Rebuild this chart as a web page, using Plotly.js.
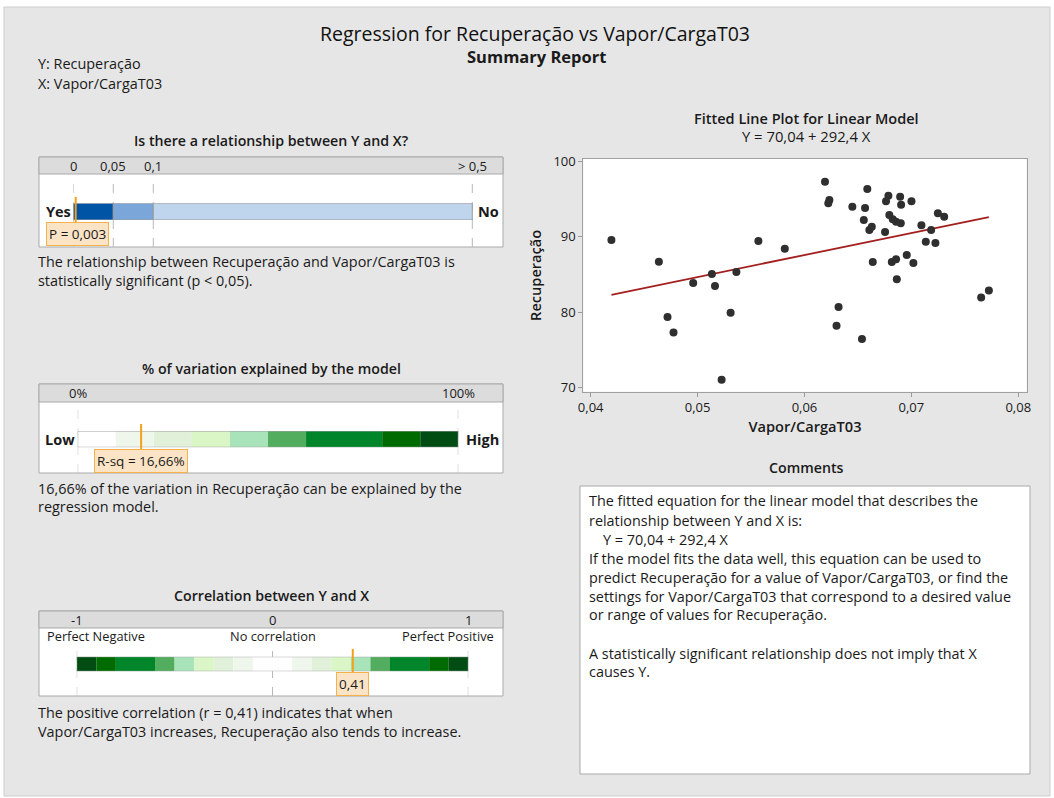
<!DOCTYPE html>
<html>
<head>
<meta charset="utf-8">
<script src="https://cdn.plot.ly/plotly-3.0.1.min.js"></script>
<style>html,body{margin:0;padding:0;background:#fff;}#chart{width:1054px;height:798px;}</style>
</head>
<body>
<div id="chart"></div>
<script>
// ---------------- DATA ----------------
const xVapor = [0.04194,0.04638,0.04719,0.04775,0.04959,0.05134,0.05163,0.05225,0.05309,0.05363,
  0.05569,0.05816,0.06192,0.06233,0.06223,0.06319,0.06300,0.06448,0.06538,0.06567,
  0.06555,0.06588,0.06607,0.06630,0.06639,0.06754,0.06763,0.06785,0.06794,0.06826,
  0.06857,0.06901,0.06817,0.06857,0.06864,0.06895,0.06904,0.06957,0.07001,0.07019,
  0.07094,0.07135,0.07185,0.07225,0.07248,0.07307,0.07653,0.07725];
const yRecup = [89.58,86.70,79.33,77.30,83.86,85.06,83.46,71.00,79.91,85.32,
  89.45,88.43,97.34,94.90,94.47,80.67,78.18,94.02,76.41,93.84,
  92.25,96.37,90.92,91.36,86.66,90.65,94.73,95.48,92.91,92.34,
  92.02,91.81,86.66,87.02,84.36,95.35,94.28,87.59,94.73,86.53,
  91.54,89.36,90.92,89.19,93.14,92.69,81.95,82.88];
const fitCoef = [70.04, 292.4];            // intercept, slope
const pValue = 0.003;
const rSqPct = 16.66;
const corrR = 0.41;

const pBreaks = [0, 0.05, 0.1, 0.5];
const pBreakLabels = ['0', '0,05', '0,1', '> 0,5'];
const pColors = ['#0054a6', '#7aa6d9', '#bfd4ed'];

const rsqBreaks = [0, 10, 20, 30, 40, 50, 60, 80, 90, 100];
const rsqColors = ['#ffffff','#eff7ec','#e1f0d9','#daf5c6','#a8e3ba','#52ae5e','#00852a','#006b00','#004d14'];
const rsqLabels = ['0%', '100%'];

const corrBreaks = [-1,-0.9,-0.8,-0.6,-0.5,-0.4,-0.3,-0.2,-0.1,0.1,0.2,0.3,0.4,0.5,0.6,0.8,0.9,1];
const corrColors = ['#004d14','#006b00','#00852a','#52ae5e','#a8e3ba','#daf5c6','#e1f0d9','#eff7ec','#ffffff',
  '#eff7ec','#e1f0d9','#daf5c6','#a8e3ba','#52ae5e','#00852a','#006b00','#004d14'];
const corrTicks = [-1, 0, 1];
const corrTickLabels = ['-1', '0', '1'];

// ---------------- HELPERS ----------------
const W = 1054, H = 798;
const px = x => x / W;
const py = y => 1 - y / H;
const fmt = (v, d) => v.toFixed(d).replace('.', ',');
const FONT = 'Open Sans, Noto Sans, sans-serif';
const TXT = '#1a1a1a';
const BODY = 14.4;

// nonlinear P scale positions
const pPos = [0, 1, 2, 9.975];
function pmap(p) {
  for (let i = 0; i < pBreaks.length - 1; i++) {
    if (p <= pBreaks[i + 1]) {
      return pPos[i] + (p - pBreaks[i]) / (pBreaks[i + 1] - pBreaks[i]) * (pPos[i + 1] - pPos[i]);
    }
  }
  return pPos[pPos.length - 1];
}

function segTrace(breaks, colors, xa, ya, mapFn, lineW) {
  const f = mapFn || (v => v);
  const base = [], len = [], ys = [];
  for (let i = 0; i < colors.length; i++) {
    base.push(f(breaks[i]));
    len.push(f(breaks[i + 1]) - f(breaks[i]));
    ys.push(0);
  }
  return {type: 'bar', orientation: 'h', y: ys, x: len, base: base, width: 1,
    marker: {color: colors, line: {color: '#9c9c9c', width: lineW}},
    xaxis: xa, yaxis: ya, hoverinfo: 'skip', showlegend: false};
}

// ---------------- TRACES ----------------
const xMin = Math.min(...xVapor), xMax = Math.max(...xVapor);
const traces = [
  {type: 'scatter', mode: 'lines', x: [xMin, xMax], y: [fitCoef[0] + fitCoef[1] * xMin, fitCoef[0] + fitCoef[1] * xMax],
   line: {color: '#a31f1f', width: 1.8}, hoverinfo: 'skip', xaxis: 'x', yaxis: 'y'},
  {type: 'scatter', mode: 'markers', x: xVapor, y: yRecup,
   marker: {color: '#2f2f2f', size: 8}, xaxis: 'x', yaxis: 'y'},
  segTrace(pBreaks, pColors, 'x2', 'y2', pmap, 1),
  segTrace(rsqBreaks, rsqColors, 'x3', 'y3', null, 0),
  segTrace(corrBreaks, corrColors, 'x4', 'y4', null, 0)
];

// ---------------- SHAPES ----------------
const shapes = [];
function rect(x0, y0, x1, y1, fill, line) {
  shapes.push({type: 'rect', xref: 'paper', yref: 'paper', x0: px(x0), x1: px(x1), y0: py(y1), y1: py(y0),
    fillcolor: fill, line: {color: line || 'rgba(0,0,0,0)', width: line ? 1 : 0}, layer: 'below'});
}
// page
rect(4, 7, 1050, 796, '#e6e6e6', '#cdcdcd');
// panels
const panels = [[157, 174, 247], [384, 402, 473], [611, 628, 696]];
panels.forEach(p => {
  rect(39, p[0], 503, p[2], '#ffffff', '#a9a9a9');
  rect(39, p[0], 503, p[1], '#dcdcdc', '#a9a9a9');
});
// comments box
rect(580, 486, 1030, 774, '#ffffff', '#a9a9a9');
// scatter plot area
shapes.push({type: 'rect', xref: 'x domain', yref: 'y domain', x0: 0, x1: 1, y0: 0, y1: 1,
  fillcolor: '#ffffff', line: {width: 0}, layer: 'below'});

function vdash(xref, x, y0, y1) {
  shapes.push({type: 'line', xref: xref, yref: 'paper', x0: x, x1: x, y0: py(y1), y1: py(y0),
    line: {color: '#b8b8b8', width: 1, dash: 'dash'}, layer: 'below'});
}
pBreaks.forEach(b => vdash('x2', pmap(b), 177, 247));
[rsqBreaks[0], rsqBreaks[rsqBreaks.length - 1]].forEach(b => vdash('x3', b, 405, 473));
corrTicks.forEach(b => vdash('x4', b, 645, 696));

// outlines of green bars
[['x3', 'y3', 0, 100], ['x4', 'y4', -1, 1]].forEach(o => {
  shapes.push({type: 'rect', xref: o[0], yref: o[1], x0: o[2], x1: o[3], y0: -0.5, y1: 0.5,
    line: {color: '#a0a0a0', width: 1}, fillcolor: 'rgba(0,0,0,0)', layer: 'above'});
});

function marker(xref, x, y0, y1) {
  shapes.push({type: 'line', xref: xref, yref: 'paper', x0: x, x1: x, y0: py(y1), y1: py(y0),
    line: {color: '#f5a01a', width: 2}, layer: 'above'});
}
marker('x2', pmap(pValue), 197, 227);
marker('x3', rSqPct, 424, 454);
marker('x4', corrR, 649, 676);

// ---------------- ANNOTATIONS ----------------
const ann = [];
function T(text, x, y, o) {
  o = o || {};
  ann.push({text: text, x: o.xref ? x : px(x), y: py(y), xref: o.xref || 'paper', yref: 'paper',
    showarrow: false, xanchor: o.xanchor || 'left', yanchor: 'middle',
    font: {family: FONT, size: o.size || BODY, color: TXT, weight: o.weight || 400},
    bgcolor: o.bgcolor, bordercolor: o.bordercolor, borderwidth: o.bordercolor ? 1 : 0, borderpad: o.borderpad || 0,
    xshift: o.xshift || 0});
}
T('Summary Report', 536, 57, {xanchor: 'center', size: 16.5, weight: 700});
T('Y: Recuperação', 38, 63);
T('X: Vapor/CargaT03', 38, 83);

// panel 1
T('Is there a relationship between Y and X?', 271, 141, {xanchor: 'center', size: 14.2, weight: 600});
pBreaks.forEach((b, i) => T(pBreakLabels[i], pmap(b), 165.5, {xref: 'x2', xanchor: 'center', size: 13}));
T('Yes', 58, 211.5, {xanchor: 'center', size: 14.5, weight: 700});
T('No', 488.5, 211.5, {xanchor: 'center', size: 14.5, weight: 700});
T('P = ' + fmt(pValue, 3), pmap(pValue), 234, {xref: 'x2', xanchor: 'center', size: 13.5, xshift: 2,
  bgcolor: '#fbe4c6', bordercolor: '#f5b24a', borderpad: 2});
T('The relationship between Recuperação and Vapor/CargaT03 is', 38, 261);
T('statistically significant (p &lt; 0,05).', 38, 280);

// panel 2
T('% of variation explained by the model', 271, 368, {xanchor: 'center', size: 14.2, weight: 600});
T(rsqLabels[0], rsqBreaks[0], 393, {xref: 'x3', xanchor: 'center', size: 13});
T(rsqLabels[1], rsqBreaks[rsqBreaks.length - 1], 393, {xref: 'x3', xanchor: 'center', size: 13});
T('Low', 60, 439.5, {xanchor: 'center', size: 14.5, weight: 700});
T('High', 482.5, 439.5, {xanchor: 'center', size: 14.5, weight: 700});
T('R-sq = ' + fmt(rSqPct, 2) + '%', rSqPct, 461, {xref: 'x3', xanchor: 'center', size: 13.5,
  bgcolor: '#fbe4c6', bordercolor: '#f5b24a', borderpad: 2});
T(fmt(rSqPct, 2) + '% of the variation in Recuperação can be explained by the', 38, 488);
T('regression model.', 38, 506);

// panel 3
T('Correlation between Y and X', 271, 595, {xanchor: 'center', size: 14.2, weight: 600});
corrTicks.forEach((b, i) => T(corrTickLabels[i], b, 619.5, {xref: 'x4', xanchor: 'center', size: 13}));
T('Perfect Negative', 47, 635.5, {size: 12.8});
T('No correlation', 0, 635.5, {xref: 'x4', xanchor: 'center', size: 12.8});
T('Perfect Positive', 494, 635.5, {xanchor: 'right', size: 12.8});
T(fmt(corrR, 2), corrR, 683.5, {xref: 'x4', xanchor: 'center', size: 13.5,
  bgcolor: '#fbe4c6', bordercolor: '#f5b24a', borderpad: 2});
T('The positive correlation (r = ' + fmt(corrR, 2) + ') indicates that when', 38, 712);
T('Vapor/CargaT03 increases, Recuperação also tends to increase.', 38, 731);

// right panel
const eqText = 'Y = ' + fmt(fitCoef[0], 2) + ' + ' + fmt(fitCoef[1], 1) + ' X';
T('Fitted Line Plot for Linear Model', 806, 118, {xanchor: 'center', size: 14.5, weight: 600});
T(eqText, 806, 136, {xanchor: 'center', size: 14.8});
T('Comments', 806, 467, {xanchor: 'center', size: 14.2, weight: 600});
const comments = [
  ['The fitted equation for the linear model that describes the', 589, 500.7],
  ['relationship between Y and X is:', 589, 520],
  [eqText, 603, 539.3],
  ['If the model fits the data well, this equation can be used to', 589, 558.3],
  ['predict Recuperação for a value of Vapor/CargaT03, or find the', 589, 577],
  ['settings for Vapor/CargaT03 that correspond to a desired value', 589, 596],
  ['or range of values for Recuperação.', 589, 614.5],
  ['A statistically significant relationship does not imply that X', 589, 653.3],
  ['causes Y.', 589, 671.7]
];
comments.forEach(c => T(c[0], c[1], c[2]));

// ---------------- LAYOUT ----------------
const hidden = {visible: false, fixedrange: true, showgrid: false, zeroline: false};
const layout = {
  width: W, height: H,
  margin: {l: 0, r: 0, t: 0, b: 0},
  paper_bgcolor: '#ffffff', plot_bgcolor: 'rgba(0,0,0,0)',
  separators: ',.',
  showlegend: false, barmode: 'overlay',
  font: {family: FONT, size: 13, color: TXT},
  title: {text: 'Regression for Recuperação vs Vapor/CargaT03', x: 535 / W, y: py(34),
    xanchor: 'center', yanchor: 'middle', font: {family: FONT, size: 19.5, color: '#111'}},
  xaxis: {domain: [px(583.3), px(1026.7)], range: [0.03931, 0.08079], tick0: 0.04, dtick: 0.01,
    tickformat: '.2f', ticks: 'outside', ticklen: 4, tickcolor: '#9a9a9a', showline: true, mirror: true,
    linecolor: '#a0a0a0', linewidth: 1, showgrid: false, zeroline: false, anchor: 'y',
    tickfont: {family: FONT, size: 13, color: TXT},
    title: {text: 'Vapor/CargaT03', font: {family: FONT, size: 14.6, weight: 600, color: TXT}, standoff: 6}},
  yaxis: {domain: [py(391.7), py(159)], range: [69.41, 100.36], tick0: 70, dtick: 10,
    ticks: 'outside', ticklen: 4, tickcolor: '#9a9a9a', showline: true, mirror: true,
    linecolor: '#a0a0a0', linewidth: 1, showgrid: false, zeroline: false, anchor: 'x',
    tickfont: {family: FONT, size: 13, color: TXT},
    title: {text: 'Recuperação', font: {family: FONT, size: 14.6, weight: 600, color: TXT}, standoff: 8}},
  xaxis2: Object.assign({domain: [px(73.3), px(473.3)], range: [0, 10], anchor: 'y2'}, hidden),
  yaxis2: Object.assign({domain: [py(220), py(203.3)], range: [-0.5, 0.5], anchor: 'x2'}, hidden),
  xaxis3: Object.assign({domain: [px(77.7), px(458.3)], range: [0, 100], anchor: 'y3'}, hidden),
  yaxis3: Object.assign({domain: [py(447.3), py(431)], range: [-0.5, 0.5], anchor: 'x3'}, hidden),
  xaxis4: Object.assign({domain: [px(76.7), px(468.3)], range: [-1, 1], anchor: 'y4'}, hidden),
  yaxis4: Object.assign({domain: [py(671.3), py(656.7)], range: [-0.5, 0.5], anchor: 'x4'}, hidden),
  shapes: shapes,
  annotations: ann
};

Plotly.newPlot('chart', traces, layout, {displayModeBar: false, staticPlot: true});
</script>
</body>
</html>
